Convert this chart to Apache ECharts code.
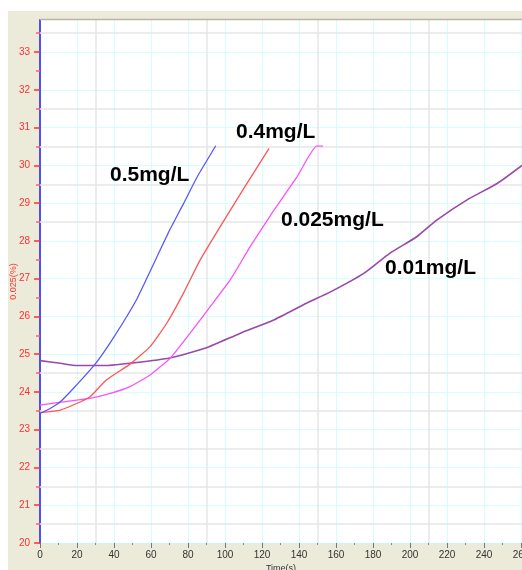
<!DOCTYPE html>
<html>
<head>
<meta charset="utf-8">
<script src="https://cdn.jsdelivr.net/npm/echarts@6/dist/echarts.min.js"></script>
<style>
html,body{margin:0;padding:0;background:#fff;}
#main{width:522px;height:570px;}
</style>
</head>
<body>
<div id="main"></div>
<script>
// time (s) and value (%)
var blueTime = [0, 5, 11, 18, 30, 40, 52, 61, 69.4, 77.5, 85, 95];
var blueValue = [23.43, 23.55, 23.74, 24.09, 24.75, 25.46, 26.43, 27.35, 28.22, 28.98, 29.7, 30.52];

var redTime = [0, 11, 22, 27, 36, 49, 59.5, 68.5, 77.5, 86.5, 96.8, 110, 123.8];
var redValue = [23.45, 23.52, 23.74, 23.87, 24.32, 24.75, 25.2, 25.82, 26.61, 27.49, 28.33, 29.38, 30.45];

var pinkTime = [0, 12.6, 27, 38, 48.6, 59.5, 70.3, 81, 92, 102.7, 113.5, 126, 138.7, 149.5, 153];
var pinkValue = [23.65, 23.74, 23.83, 23.96, 24.14, 24.45, 24.89, 25.55, 26.26, 26.96, 27.84, 28.78, 29.68, 30.51, 30.51];

var purpleTime = [0, 11, 20, 36, 50.5, 70, 90, 108, 126, 144, 157, 175, 189, 203.6, 214.4, 230.6, 247, 260.5];
var purpleValue = [24.83, 24.76, 24.7, 24.7, 24.77, 24.9, 25.17, 25.55, 25.9, 26.35, 26.65, 27.14, 27.67, 28.11, 28.55, 29.08, 29.52, 30.0];

var yTicks = [20, 21, 22, 23, 24, 25, 26, 27, 28, 29, 30, 31, 32, 33];
var yMinorTicks = [20.5, 21.5, 22.5, 23.5, 24.5, 25.5, 26.5, 27.5, 28.5, 29.5, 30.5, 31.5, 32.5, 33.5];
var greyRows = [20.5, 21.5, 22.5, 23.5, 24.5, 28.5, 29.5, 30.5, 31.5, 33.5];
var greyCols = [30, 90, 150, 210];

function pairs(t, v){
	var out = [];
	for (var i = 0; i < t.length; i++) out.push([t[i], v[i]]);
	return out;
}

var chart = echarts.init(document.getElementById('main'));
var font = 'Liberation Sans';
var option = {
	backgroundColor: '#fff',
	animation: false,
	textStyle: {fontFamily: font},
	grid: {
		left: 40, top: 20, right: 0, bottom: 27,
		containLabel: false, outerBoundsMode: 'none',
		show: true, backgroundColor: '#fff', borderWidth: 0
	},
	graphic: [
		{type: 'rect', z: -100, shape: {x: 8, y: 11, width: 514, height: 559}, style: {fill: '#ecead9'}},
		{type: 'line', z: 50, shape: {x1: 40, y1: 19.5, x2: 522, y2: 19.5}, style: {stroke: '#b8b4a8', lineWidth: 1.5}},
		{type: 'text', z: 60, left: 110, top: 165, style: {text: '0.5mg/L', font: 'bold 21px "Liberation Sans"', fill: '#000'}},
		{type: 'text', z: 60, left: 236, top: 122, style: {text: '0.4mg/L', font: 'bold 21px "Liberation Sans"', fill: '#000'}},
		{type: 'text', z: 60, left: 281, top: 210, style: {text: '0.025mg/L', font: 'bold 21px "Liberation Sans"', fill: '#000'}},
		{type: 'text', z: 60, left: 385, top: 258, style: {text: '0.01mg/L', font: 'bold 21px "Liberation Sans"', fill: '#000'}}
	],
	xAxis: {
		type: 'value', min: 0, max: 260.5, interval: 20,
		name: 'Time(s)', nameLocation: 'middle', nameGap: 21, nameMoveOverlap: false,
		nameTextStyle: {fontSize: 9, color: '#333'},
		axisLine: {show: true, lineStyle: {color: '#c8f6f6', width: 1}},
		axisTick: {show: true, length: 5, lineStyle: {color: '#777'}},
		minorTick: {show: true, splitNumber: 2, length: 2, lineStyle: {color: '#888'}},
		axisLabel: {fontSize: 10, color: '#333', margin: 7, showMaxLabel: false},
		splitLine: {show: true, lineStyle: {color: '#d4ffff', width: 1}}
	},
	yAxis: [{
		type: 'value', min: 20, max: 33.85, interval: 1,
		name: '0.025(%)', nameLocation: 'middle', nameGap: 22, nameRotate: 90, nameMoveOverlap: false,
		nameTextStyle: {fontSize: 9, color: '#ff3030'},
		axisLine: {show: true, lineStyle: {color: '#5050f0', width: 2}},
		axisTick: {show: true, length: 6, customValues: yTicks, lineStyle: {color: '#ff3030', width: 1.5}},
		axisLabel: {fontSize: 10, color: '#ff3030', margin: 10, customValues: yTicks},
		splitLine: {show: true, lineStyle: {color: '#d4ffff', width: 1}}
	}, {
		type: 'value', min: 20, max: 33.85, interval: 1, position: 'left', offset: 0,
		axisLine: {show: false},
		axisTick: {show: true, length: 4, customValues: yMinorTicks, lineStyle: {color: '#ff6060', width: 1.5}},
		axisLabel: {show: false},
		splitLine: {show: false}
	}],
	series: [{
		name: '0.01mg/L', type: 'line', smooth: 0.2, symbol: 'none',
		data: pairs(purpleTime, purpleValue),
		lineStyle: {color: '#9a48aa', width: 1.6},
		markLine: {
			silent: true, symbol: 'none', z: 1, animation: false,
			label: {show: false},
			lineStyle: {color: '#e6e6e6', type: 'solid', width: 1.5},
			data: greyRows.map(function(v){ return {yAxis: v}; })
				.concat(greyCols.map(function(v){ return {xAxis: v}; }))
		}
	}, {
		name: '0.025mg/L', type: 'line', smooth: 0.15, symbol: 'none',
		data: pairs(pinkTime, pinkValue),
		lineStyle: {color: '#ff50ff', width: 1.3}
	}, {
		name: '0.4mg/L', type: 'line', smooth: 0.15, symbol: 'none',
		data: pairs(redTime, redValue),
		lineStyle: {color: '#ff5555', width: 1.3}
	}, {
		name: '0.5mg/L', type: 'line', smooth: 0.15, symbol: 'none',
		data: pairs(blueTime, blueValue),
		lineStyle: {color: '#5a5af5', width: 1.3}
	}]
};
chart.setOption(option);
</script>
</body>
</html>
